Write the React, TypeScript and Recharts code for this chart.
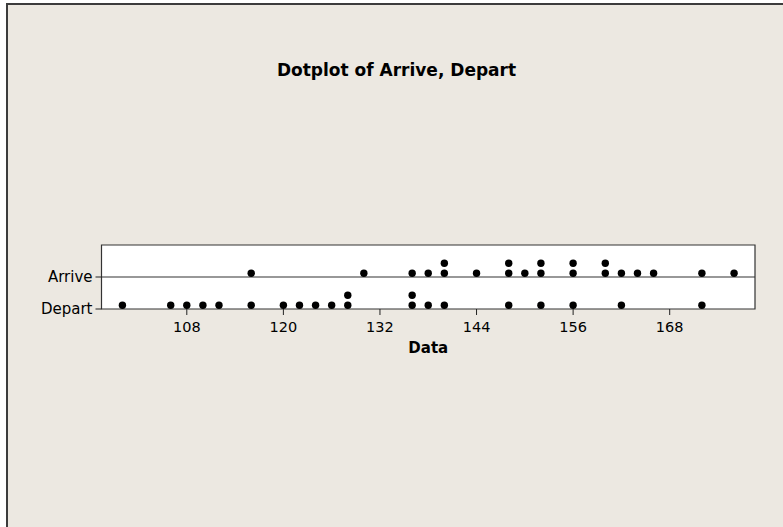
import { ScatterChart, Scatter, XAxis, YAxis, ReferenceArea, ReferenceLine, Label } from 'recharts'

const ARRIVE = [116, 130, 136, 138, 140, 140, 144, 148, 148, 150, 152, 152, 156, 156, 160, 160, 162, 164, 166, 172, 176]
const DEPART = [100, 106, 108, 110, 112, 116, 120, 122, 124, 126, 128, 128, 136, 136, 138, 140, 148, 152, 156, 162, 172]
const ROW_NAMES = ['Depart', 'Arrive']
const X_TICKS = [108, 120, 132, 144, 156, 168]
const X_DOMAIN = [97.4, 178.6]

const FONT = '"DejaVu Sans", Verdana, sans-serif'

// stack repeated values on top of each other, like a dotplot does
function stackRow(values: number[], row: number) {
  const seen: Record<number, number> = {}
  return values.map((v) => {
    const level = seen[v] ?? 0
    seen[v] = level + 1
    return { x: v, y: row, level }
  })
}

const arrivePoints = stackRow(ARRIVE, 1)
const departPoints = stackRow(DEPART, 0)

function Dot(props: any) {
  const { cx, cy, payload } = props
  if (cx == null || cy == null) return null
  return <circle cx={cx} cy={cy - 3.8 - payload.level * 10} r={3.7} fill="#000" />
}

export default function App() {
  return (
    <div style={{ position: 'absolute', left: 0, top: 0, width: 783, height: 527, background: '#fff', overflow: 'hidden' }}>
      <div
        style={{
          position: 'absolute',
          left: 6,
          top: 3,
          width: 790,
          height: 540,
          background: '#ECE8E1',
          borderLeft: '2px solid #3c3c3c',
          borderTop: '2px solid #3c3c3c',
        }}
      />
      <svg width={783} height={527} style={{ position: 'absolute', left: 0, top: 0 }}>
        <text x={396.5} y={76} textAnchor="middle" fontFamily={FONT} fontWeight="bold" fontSize={17} fill="#000">
          Dotplot of Arrive, Depart
        </text>
      </svg>
      <div style={{ position: 'absolute', left: 0, top: 0 }}>
        <ScatterChart width={783} height={527} margin={{ top: 245, right: 28, bottom: 168, left: 21.5 }}>
          <XAxis
            type="number"
            dataKey="x"
            domain={X_DOMAIN}
            ticks={X_TICKS}
            allowDataOverflow
            axisLine={false}
            tickLine={{ stroke: '#222' }}
            tickSize={6}
            tickMargin={7}
            height={50}
            tick={{ fontFamily: FONT, fontSize: 14.5, fill: '#000' }}
          >
            <Label value="Data" position="insideBottom" offset={6} style={{ fontFamily: FONT, fontSize: 15, fontWeight: 'bold', fill: '#000' }} />
          </XAxis>
          <YAxis
            type="number"
            dataKey="y"
            domain={[0, 2]}
            ticks={[0, 1]}
            allowDataOverflow
            width={80}
            axisLine={false}
            tickLine={{ stroke: '#222' }}
            tickSize={6}
            tickMargin={3}
            tickFormatter={(v: number) => ROW_NAMES[v] ?? ''}
            tick={{ fontFamily: FONT, fontSize: 15, fill: '#000' }}
          />
          <ReferenceArea x1={X_DOMAIN[0]} x2={X_DOMAIN[1]} y1={0} y2={2} fill="#fff" fillOpacity={1} stroke="#333" strokeWidth={1.2} />
          <ReferenceLine y={1} stroke="#333" strokeWidth={1.2} />
          <Scatter data={departPoints} shape={Dot} isAnimationActive={false} />
          <Scatter data={arrivePoints} shape={Dot} isAnimationActive={false} />
        </ScatterChart>
      </div>
    </div>
  )
}
